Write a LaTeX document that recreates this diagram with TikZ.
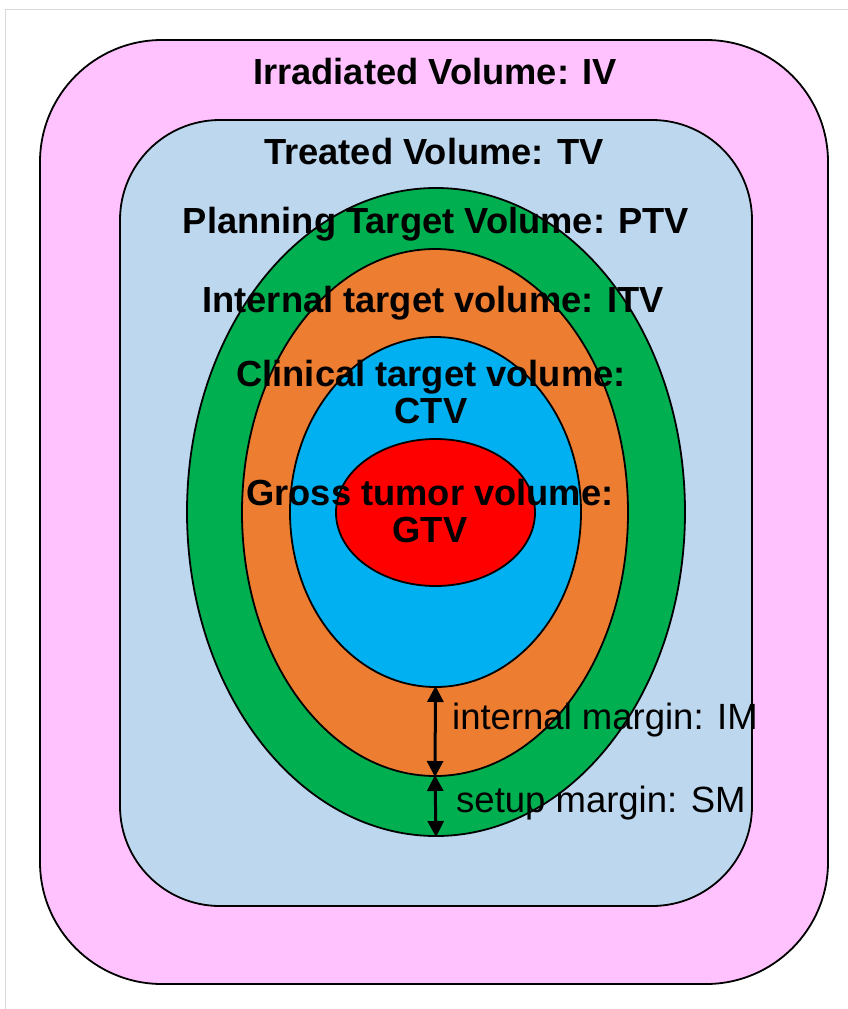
\documentclass[tikz,border=0pt]{standalone}
\usepackage{fontspec}
\setmainfont{Liberation Sans}
\usetikzlibrary{shapes.geometric,arrows.meta}
\definecolor{ivpink}{HTML}{FFC2FE}
\definecolor{tvblue}{HTML}{BDD7EE}
\definecolor{ptvgreen}{HTML}{00B050}
\definecolor{itvorange}{HTML}{ED7D31}
\definecolor{ctvblue}{HTML}{00B0F0}
\definecolor{gtvred}{HTML}{FF0000}
\definecolor{framegray}{HTML}{D9D9D9}
\tikzset{
  region/.style={draw=black, line width=1.8pt, inner sep=0pt, outer sep=0pt},
  volbox/.style={region, rectangle},
  volell/.style={region, ellipse},
  title/.style={font=\fontsize{36.3}{36.5}\selectfont\bfseries, align=center, inner sep=0pt},
  marginlabel/.style={font=\fontsize{36.5}{38}\selectfont, anchor=west, inner sep=0pt},
  marginarrow/.style={{Triangle[length=16pt,width=16pt]}-{Triangle[length=16pt,width=16pt]}, line width=3pt, shorten >=-1pt, shorten <=-1pt},
}
\begin{document}
\begin{tikzpicture}[x=1pt, y=-1pt]
\useasboundingbox (0,0) rectangle (848,1009);
% page frame
\draw[framegray, line width=1pt] (5,1009) -- (5,9) -- (848,9);
% nested volumes
\node[volbox, fill=ivpink, rounded corners=122pt, minimum width=788pt, minimum height=944pt] (iv) at (434,512) {};
\node[volbox, fill=tvblue, rounded corners=100pt, minimum width=632pt, minimum height=786pt] (tv) at (436,513) {};
\node[volell, fill=ptvgreen, minimum width=498pt, minimum height=648pt] (ptv) at (436,512) {};
\node[volell, fill=itvorange, minimum width=386pt, minimum height=527pt] (itv) at (435,512.5) {};
\node[volell, fill=ctvblue, minimum width=291pt, minimum height=350pt] (ctv) at (435.5,512) {};
\node[volell, fill=gtvred, minimum width=199pt, minimum height=147pt] (gtv) at (435.5,512.5) {};
% margins
\draw[marginarrow] (ctv.south) -- (itv.south);
\draw[marginarrow] (itv.south) -- (ptv.south);
% labels
\node[title] (ivlabel) at (435,72) {Irradiated Volume: IV};
\node[title] (tvlabel) at (434,152) {Treated Volume: TV};
\node[title] (ptvlabel) at (436,224) {Planning Target Volume: PTV};
\node[title] (itvlabel) at (433,303) {Internal target volume: ITV};
\node[title] (ctvlabel) at (431,392) {Clinical target volume:\\CTV};
\node[title] (gtvlabel) at (430,511) {Gross tumor volume:\\GTV};
\node[marginlabel] (imlabel) at (452,720) {internal margin: IM};
\node[marginlabel] (smlabel) at (456,803) {setup margin: SM};
\end{tikzpicture}
\end{document}
